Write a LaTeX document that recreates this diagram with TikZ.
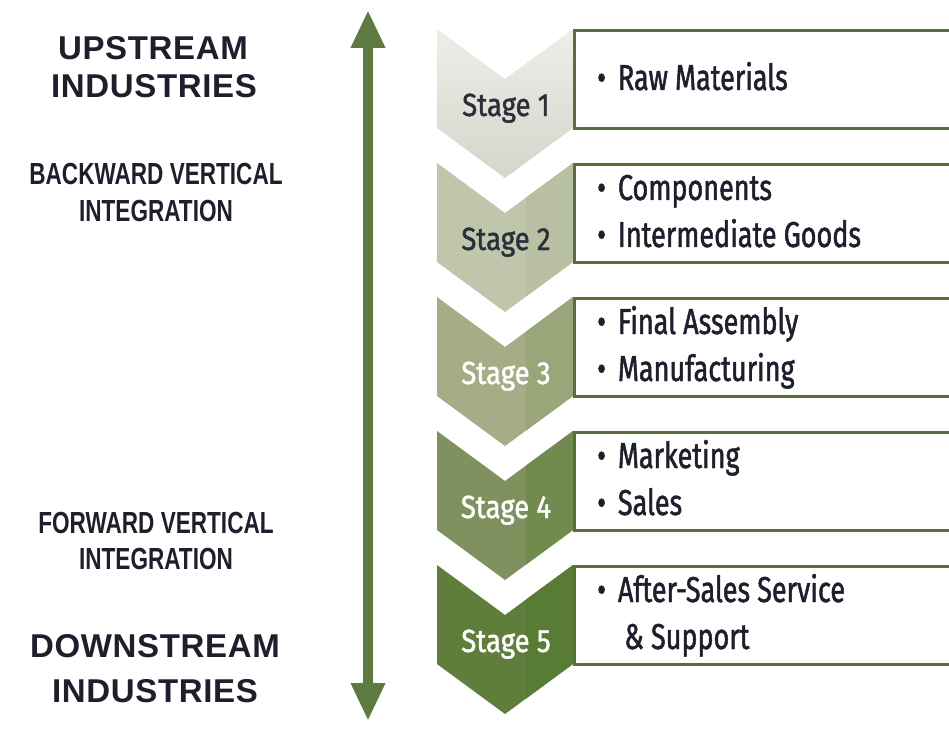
\documentclass[tikz,border=0pt]{standalone}
\usepackage{fontspec}
\usetikzlibrary{arrows.meta}
\newfontfamily\headfont[LetterSpace=2]{Liberation Sans}
\newfontfamily\narrowfont[FakeStretch=0.74]{Liberation Sans}
\newfontfamily\condfont[FakeStretch=0.75, FakeBold=1.3]{Fira Sans}
\newfontfamily\stagefont[FakeStretch=0.86, FakeBold=1.3]{Fira Sans}
\definecolor{arrowc}{HTML}{5E7B3F}
\definecolor{boxc}{HTML}{56703C}
\definecolor{inkc}{HTML}{1E1F2C}
\definecolor{stdark}{HTML}{2B2F3A}
\definecolor{cAl}{HTML}{EEEEE9}
\definecolor{cAr}{HTML}{D3D6CA}
\definecolor{cBl}{HTML}{C0C6AC}
\definecolor{cBr}{HTML}{B8BFA2}
\definecolor{cCl}{HTML}{A4AD86}
\definecolor{cCr}{HTML}{9AA67A}
\definecolor{cDl}{HTML}{7E915E}
\definecolor{cDr}{HTML}{718A4D}
\definecolor{cEl}{HTML}{5F7E3C}
\definecolor{cEr}{HTML}{597C35}
\tikzset{
  bigtitle/.style={font=\headfont\bfseries\fontsize{33}{40}\selectfont, text=inkc, anchor=base, inner sep=0pt},
  midtitle/.style={font=\narrowfont\bfseries\fontsize{30.5}{36}\selectfont, text=inkc, anchor=base, inner sep=0pt},
  stagelabel/.style={font=\stagefont\fontsize{32}{36}\selectfont, anchor=base, inner sep=0pt},
  itemtext/.style={font=\condfont\fontsize{36}{42}\selectfont, text=inkc, anchor=base west, inner sep=0pt},
  stagebox/.style={draw=boxc, line width=3pt, fill=white, rectangle, anchor=north west,
     minimum width=430pt, minimum height=98pt, inner sep=0pt},
}
\newcommand{\bul}{\textbullet\hspace{12pt}}
\begin{document}
\begin{tikzpicture}[x=1pt,y=-1pt]
\useasboundingbox (0,0) rectangle (949,735);
\clip (0,0) rectangle (949,735);
\fill[white] (0,0) rectangle (949,735);

% left labels
\node[bigtitle] (up1) at (153,60) {UPSTREAM};
\node[bigtitle] (up2) at (154,98) {INDUSTRIES};
\node[midtitle] (bw1) at (156,185) {BACKWARD VERTICAL};
\node[midtitle] (bw2) at (156,222) {INTEGRATION};
\node[midtitle] (fw1) at (156,533) {FORWARD VERTICAL};
\node[midtitle] (fw2) at (156,569) {INTEGRATION};
\node[bigtitle] (dn1) at (155,657) {DOWNSTREAM};
\node[bigtitle] (dn2) at (155,702) {INDUSTRIES};

% vertical double arrow
\coordinate (atop) at (368,10);
\coordinate (abot) at (368,721);
\draw[arrowc, line width=10pt,
  {Triangle[width=32pt,length=38pt]}-{Triangle[width=32pt,length=38pt]}] (atop) -- (abot);

% chevrons
\foreach \i/\cl/\cr/\tc in {1/cAl/cAr/stdark,2/cBl/cBr/stdark,3/cCl/cCr/white,4/cDl/cDr/white,5/cEl/cEr/white}{
  \pgfmathsetmacro{\T}{29+134*(\i-1)}
  \begin{scope}
    \path[clip] (437,\T) -- (505,\T+50) -- (573,\T) -- (573,\T+99) -- (505,\T+149) -- (437,\T+99) -- cycle;
    \ifnum\i=1
      \shade[top color=cAl, bottom color=cAr] (430,\T) rectangle (580,\T+150);
    \else
      \fill[\cl] (430,\T) rectangle (580,\T+150);
      \fill[\cr] (526,\T) rectangle (580,\T+150);
    \fi
  \end{scope}
  \node[stagelabel, text=\tc] (s\i) at (506,\T+87) {Stage \i};
  \node[stagebox] (b\i) at (573,\T) {};
}

% box texts
\node[itemtext] (t1a) at (597,29+61) {\bul Raw Materials};
\node[itemtext] (t2a) at (597,163+37) {\bul Components};
\node[itemtext] (t2b) at (597,163+84) {\bul Intermediate Goods};
\node[itemtext] (t3a) at (597,297+37) {\bul Final Assembly};
\node[itemtext] (t3b) at (597,297+84) {\bul Manufacturing};
\node[itemtext] (t4a) at (597,431+37) {\bul Marketing};
\node[itemtext] (t4b) at (597,431+84) {\bul Sales};
\node[itemtext] (t5a) at (597,565+37) {\bul After-Sales Service};
\node[itemtext] (t5b) at (597,565+84) {\hspace{27pt}\& Support};
\end{tikzpicture}
\end{document}
